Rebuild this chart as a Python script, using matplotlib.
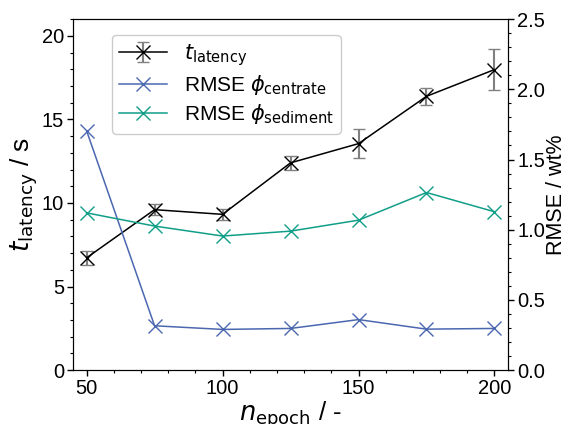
import numpy as np
import matplotlib.pyplot as plt
from matplotlib.ticker import MultipleLocator

plt.rcParams['font.family'] = ['Liberation Sans', 'DejaVu Sans']
plt.rcParams['mathtext.fontset'] = 'dejavusans'

# Data
n_epoch = [50, 75, 100, 125, 150, 175, 200]
t_latency = [6.72, 9.6, 9.32, 12.4, 13.55, 16.38, 17.98]
t_latency_err = [0.42, 0.32, 0.32, 0.4, 0.88, 0.5, 1.25]
rmse_centrate = [1.705, 0.316, 0.29, 0.297, 0.36, 0.292, 0.297]
rmse_sediment = [1.12, 1.026, 0.955, 0.99, 1.068, 1.265, 1.128]

blue = '#4a67b0'
green = '#119e88'

fig = plt.figure(figsize=(5.68, 4.24), dpi=100)
ax = fig.add_axes([0.1285, 0.127, 0.766, 0.828])
ax2 = ax.twinx()

# Latency with error bars on the left axis
h1 = ax.errorbar(n_epoch, t_latency, yerr=t_latency_err, color='black', lw=1.1,
                 marker='x', markersize=10, mew=1.0, ecolor='grey', elinewidth=1.5,
                 capsize=4, capthick=1.5, label=r'$t_\mathrm{latency}$')

# RMSE curves on the right axis
h2, = ax2.plot(n_epoch, rmse_centrate, color=blue, lw=1.1, marker='x', markersize=10,
               mew=1.0, label=r'RMSE $\phi_\mathrm{centrate}$')
h3, = ax2.plot(n_epoch, rmse_sediment, color=green, lw=1.1, marker='x', markersize=10,
               mew=1.0, label=r'RMSE $\phi_\mathrm{sediment}$')

ax.set_xlim(45, 205)
ax.set_ylim(0, 21)
ax2.set_ylim(0, 2.5)

ax.set_xticks([50, 100, 150, 200])
ax.xaxis.set_minor_locator(MultipleLocator(10))
ax.yaxis.set_major_locator(MultipleLocator(5))
ax.yaxis.set_minor_locator(MultipleLocator(1))
ax2.yaxis.set_major_locator(MultipleLocator(0.5))
ax2.yaxis.set_minor_locator(MultipleLocator(0.1))
ax2.yaxis.set_major_formatter(plt.FormatStrFormatter('%.1f'))

for a in (ax, ax2):
    a.tick_params(which='major', labelsize=14.5, length=4.5, width=1, pad=2)
    a.tick_params(which='minor', length=2.5, width=0.8)

ax.set_xlabel(r'$n_\mathrm{epoch}$ / -', fontsize=18.5, labelpad=1)
ax.set_ylabel(r'$t_\mathrm{latency}$ / s', fontsize=19, labelpad=1)
ax2.set_ylabel('RMSE / wt%', fontsize=15.5, labelpad=1)

ax.legend(handles=[h1, h2, h3], loc='upper left', bbox_to_anchor=(0.065, 0.985),
          fontsize=15, framealpha=1, edgecolor='#cccccc', labelspacing=0.25,
          handlelength=2.3, borderpad=0.35)

fig.savefig('out.png', dpi=100)
